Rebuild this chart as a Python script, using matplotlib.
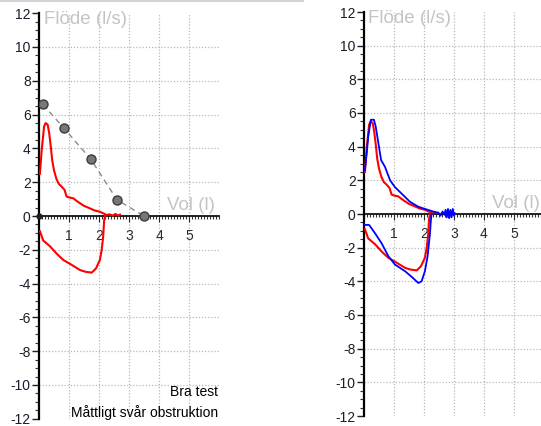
import matplotlib
matplotlib.use("Agg")
import matplotlib.pyplot as plt
from matplotlib.lines import Line2D
from matplotlib.ticker import MultipleLocator

plt.rcParams['font.family'] = ['Liberation Sans', 'DejaVu Sans']
plt.rcParams['axes.unicode_minus'] = False

# ---- data ----
# red test, expiration (volume l, flow l/s)
red_exp_vol = [0.03, 0.09, 0.17, 0.22, 0.29, 0.34, 0.40, 0.44, 0.50, 0.58, 0.66, 0.75, 0.85, 0.92, 1.00, 1.14, 1.25,
               1.37, 1.50, 1.70, 1.85, 2.03, 2.15, 2.26, 2.35, 2.45, 2.55, 2.62, 2.70]
red_exp_flow = [2.5, 3.9, 5.3, 5.5, 5.4, 4.9, 4.0, 3.3, 2.7, 2.2, 1.9, 1.75, 1.55, 1.15, 1.1, 1.05, 0.9,
                0.75, 0.6, 0.45, 0.33, 0.25, 0.15, 0.06, 0.1, 0.02, 0.12, 0.03, 0.08]
# red test, inspiration
red_insp_vol = [0.03, 0.14, 0.37, 0.60, 0.81, 1.05, 1.37, 1.55, 1.76, 1.90, 2.03, 2.09, 2.14, 2.17, 2.20]
red_insp_flow = [-0.9, -1.45, -1.8, -2.25, -2.6, -2.85, -3.2, -3.3, -3.35, -3.1, -2.6, -2.0, -1.2, -0.3, 0.0]

# blue test, expiration
blue_exp_vol = [0.03, 0.09, 0.14, 0.23, 0.33, 0.39, 0.48, 0.57, 0.70, 0.87, 1.03, 1.26, 1.53, 1.81, 2.14, 2.30,
                2.48, 2.55, 2.62, 2.68, 2.72, 2.76, 2.80, 2.84, 2.88, 2.92, 2.96, 3.00, 3.02]
blue_exp_flow = [2.6, 3.6, 4.6, 5.6, 5.6, 5.2, 4.2, 3.2, 2.8, 2.0, 1.6, 1.2, 0.73, 0.43, 0.24, 0.15,
                 0.08, -0.1, 0.15, -0.05, 0.25, -0.2, 0.3, -0.25, 0.25, -0.2, 0.3, -0.1, 0.05]
# blue test, inspiration
blue_insp_vol = [0.03, 0.17, 0.37, 0.59, 0.81, 1.03, 1.37, 1.60, 1.81, 1.92, 2.03, 2.12, 2.20, 2.23, 2.25]
blue_insp_flow = [-0.65, -0.65, -1.15, -1.75, -2.5, -3.0, -3.4, -3.75, -4.1, -4.0, -3.4, -2.5, -1.15, -0.36, 0.0]

# predicted values
pred_vol = [0.13, 0.83, 1.73, 2.60, 3.50]
pred_flow = [6.6, 5.2, 3.35, 0.96, 0.0]

yticks = [-12, -10, -8, -6, -4, -2, 0, 2, 4, 6, 8, 10, 12]
xticks = [1, 2, 3, 4, 5]
y_label = "Flöde (l/s)"
x_label = "Vol (l)"
notes = ["Bra test", "Måttligt svår obstruktion"]

W, H = 541, 426
fig = plt.figure(figsize=(W / 100, H / 100), dpi=100)
fig.add_artist(Line2D([0, 303 / W], [0.998, 0.998], color="#cccccc", lw=1.2, transform=fig.transFigure))


def make_axes(x0, y_top, y_bot):
    ax = fig.add_axes([x0 / W, 1 - y_bot / H, 180 / W, (y_bot - y_top) / H])
    ax.set_xlim(0, 6)
    ax.set_ylim(-12, 12)
    for s in ["top", "right"]:
        ax.spines[s].set_visible(False)
    ax.spines["left"].set_linewidth(1.6)
    ax.spines["left"].set_color("black")
    ax.spines["bottom"].set_position(("data", 0))
    ax.spines["bottom"].set_linestyle((0, (1, 1)))
    ax.spines["bottom"].set_linewidth(1.2)
    ax.set_yticks(yticks)
    ax.yaxis.set_minor_locator(MultipleLocator(0.5))
    ax.set_xticks(xticks)
    ax.xaxis.set_minor_locator(MultipleLocator(0.1))
    ax.tick_params(axis="y", which="major", length=5, width=1, labelsize=10, colors="#1c1c2c", pad=1)
    ax.tick_params(axis="y", which="minor", length=3, width=0.8, color="#333333")
    ax.tick_params(axis="x", which="major", length=4, width=0.8, labelsize=10, colors="#2a2a2a", pad=5)
    ax.tick_params(axis="x", which="minor", length=2.5, width=0.8, color="#333333")
    for v in [-10, -8, -6, -4, -2, 2, 4, 6, 8, 10]:
        ax.axhline(v, color="#b8b8b8", lw=0.9, ls=(0, (1, 1.5)), zorder=0)
    for v in xticks:
        ax.axvline(v, color="#b8b8b8", lw=0.9, ls=(0, (1, 1.5)), zorder=0)
    ax.text(0.15, 11.6, y_label, color="#c4c4c4", fontsize=13.5, va="center", ha="left")
    ax.text(5.87, 0.6, x_label, color="#c4c4c4", fontsize=13.5, va="center", ha="right")
    return ax


ax1 = make_axes(39, 13.2, 418.8)
ax1.plot(pred_vol, pred_flow, color="#8a8a8a", lw=1.0, ls=(0, (4, 3)), zorder=2)
ax1.plot(pred_vol, pred_flow, ls="none", marker="o", ms=6.5, mfc="#777777", mec="#3c3c3c", mew=1.0, zorder=3)
ax1.plot(red_exp_vol, red_exp_flow, color="#ff0000", lw=1.5, zorder=4)
ax1.plot(red_insp_vol, red_insp_flow, color="#ff0000", lw=1.5, zorder=4)
ax1.plot([0], [0], ls="none", marker="o", ms=3.5, color="#222222", zorder=5, clip_on=False)
ax1.text(5.97, -10.4, notes[0], fontsize=10, ha="right", va="center", color="black")
ax1.text(5.97, -11.6, notes[1], fontsize=10, ha="right", va="center", color="black")

ax2 = make_axes(364, 12, 416)
ax2.plot(red_exp_vol[:-4], red_exp_flow[:-4], color="#ff0000", lw=1.5, zorder=4)
ax2.plot(red_insp_vol, red_insp_flow, color="#ff0000", lw=1.5, zorder=4)
ax2.plot(blue_exp_vol, blue_exp_flow, color="#0000ff", lw=1.3, zorder=5)
ax2.plot(blue_insp_vol, blue_insp_flow, color="#0000ff", lw=1.3, zorder=5)

fig.savefig("out.png", dpi=100)
